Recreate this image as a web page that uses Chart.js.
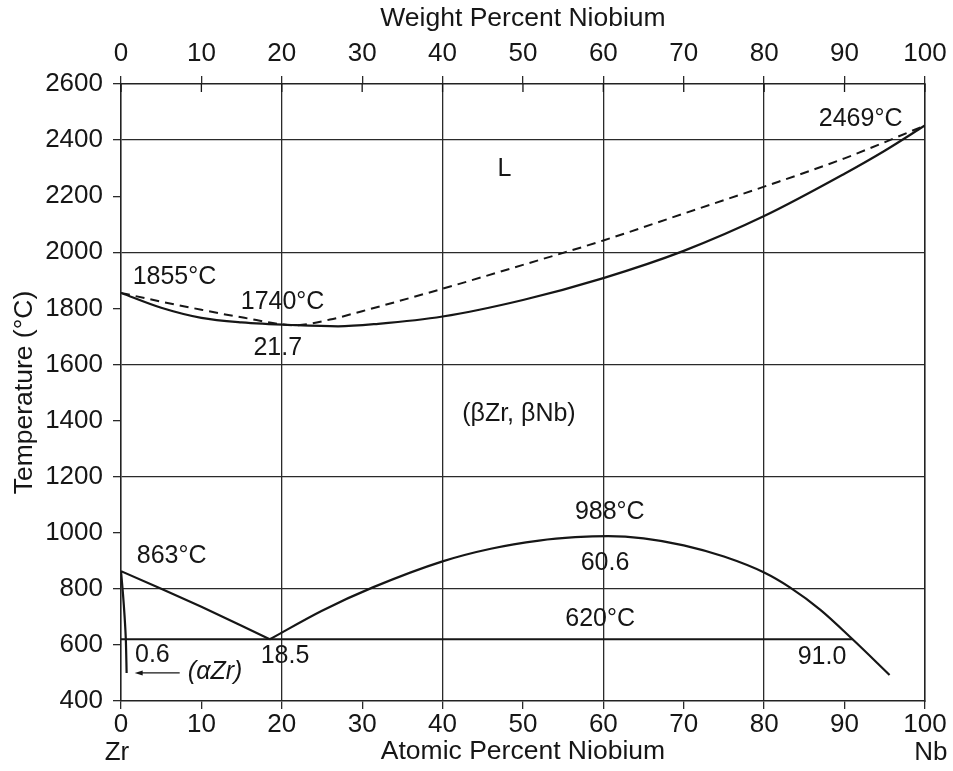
<!DOCTYPE html>
<html>
<head>
  <script src="https://cdn.jsdelivr.net/npm/chart.js"></script>
  <title>Zr-Nb Phase Diagram</title>
  <style>
    body { margin: 0; background: #fff; }
    canvas { display: block; }
  </style>
</head>
<body>
  <canvas id="phaseChart" width="953" height="771"></canvas>

  <script>
    // Liquidus (dashed) and solidus (solid), atomic % Nb vs temperature
    const liquidusX = [0, 5, 10, 15, 21.7, 26, 30, 40, 50, 60, 70, 80, 90, 100];
    const liquidusT = [1855, 1824, 1795, 1768, 1740, 1760, 1790, 1870, 1955, 2042, 2138, 2234, 2335, 2452];
    const solidusX = [0, 5, 10, 15, 21.7, 27, 32, 40, 50, 60, 70, 80, 90, 95, 100];
    const solidusT = [1855, 1802, 1766, 1750, 1740, 1736, 1745, 1771, 1830, 1908, 2005, 2129, 2280, 2362, 2452];

    // beta transus from Zr side down to the monotectoid point
    const betaLeftX = [0, 5, 10, 15, 18.5];
    const betaLeftT = [863, 800, 736, 668, 620];

    // miscibility gap dome
    const domeX = [18.5, 25, 31.4, 40, 46, 52, 56.5, 60.6, 65, 70, 75, 80, 83.2, 87, 91, 95.6];
    const domeT = [620, 722, 806, 898, 943, 972, 984, 988, 980, 955, 915, 858, 805, 725, 620, 493];

    // alpha Zr solvus near pure Zr
    const alphaX = [0, 0.25, 0.45, 0.6, 0.7];
    const alphaT = [863, 780, 700, 620, 500];

    // monotectoid horizontal at 620 C
    const monoX = [0, 91];
    const monoT = [620, 620];

    const tickLabelsX = [0, 10, 20, 30, 40, 50, 60, 70, 80, 90, 100];

    // text annotations in data coordinates
    const noteText = ['L', '1855°C', '1740°C', '21.7', '2469°C', '(βZr, βNb)', '988°C', '60.6', '620°C', '91.0', '863°C', '0.6', '18.5', '(αZr)'];
    const noteX = [47.7, 6.65, 20.1, 19.5, 92.0, 49.5, 60.8, 60.2, 59.6, 87.2, 6.3, 3.9, 20.4, 11.7];
    const noteT = [2295, 1913, 1824, 1660, 2475, 1422, 1073, 891, 692, 555, 916, 564, 560, 503];
    const arrowX = [7.3, 1.7];
    const arrowT = [500, 500];

    const FONT = "'Liberation Sans', Arial, Helvetica, sans-serif";
    const INK = '#161616';

    function pts(xs, ys) {
      return xs.map((x, i) => ({ x: x, y: ys[i] }));
    }

    function curve(xs, ys, extra) {
      return Object.assign({
        data: pts(xs, ys),
        showLine: true,
        borderColor: INK,
        borderWidth: 2.2,
        pointRadius: 0,
        fill: false,
        tension: 0
      }, extra || {});
    }

    // labels, arrow and the little inner tick halves on the top axis
    const notesPlugin = {
      id: 'notes',
      afterDatasetsDraw(chart) {
        const ctx = chart.ctx;
        const xs = chart.scales.x;
        const ys = chart.scales.y;
        ctx.save();
        ctx.fillStyle = INK;
        ctx.textAlign = 'center';
        ctx.textBaseline = 'middle';
        noteText.forEach((t, i) => {
          ctx.font = (t === '(αZr)' ? 'italic ' : '') + '25px ' + FONT;
          ctx.fillText(t, xs.getPixelForValue(noteX[i]), ys.getPixelForValue(noteT[i]));
        });

        // arrow pointing to the alpha Zr field
        const x0 = xs.getPixelForValue(arrowX[0]);
        const x1 = xs.getPixelForValue(arrowX[1]);
        const y0 = ys.getPixelForValue(arrowT[0]);
        ctx.strokeStyle = INK;
        ctx.lineWidth = 1.2;
        ctx.beginPath();
        ctx.moveTo(x0, y0);
        ctx.lineTo(x1 + 4, y0);
        ctx.stroke();
        ctx.beginPath();
        ctx.moveTo(x1, y0);
        ctx.lineTo(x1 + 8, y0 - 2.5);
        ctx.lineTo(x1 + 8, y0 + 2.5);
        ctx.closePath();
        ctx.fill();

        // top axis ticks cross the border
        const top = chart.chartArea.top;
        ctx.lineWidth = 1.3;
        tickLabelsX.forEach(v => {
          const px = chart.scales.x2.getPixelForValue(v);
          ctx.beginPath();
          ctx.moveTo(px, top);
          ctx.lineTo(px, top + 8);
          ctx.stroke();
        });
        ctx.restore();
      }
    };

    const tickFont = { family: FONT, size: 26 };
    const titleFont = { family: FONT, size: 26.5 };

    new Chart(document.getElementById('phaseChart'), {
      type: 'scatter',
      data: {
        datasets: [
          curve(liquidusX, liquidusT, { borderDash: [9, 6], borderWidth: 2, cubicInterpolationMode: 'monotone' }),
          curve(solidusX, solidusT, { cubicInterpolationMode: 'monotone' }),
          curve(betaLeftX, betaLeftT),
          curve(domeX, domeT, { cubicInterpolationMode: 'monotone' }),
          curve(alphaX, alphaT, { tension: 0.3 }),
          curve(monoX, monoT, { borderWidth: 2 })
        ]
      },
      options: {
        responsive: false,
        animation: false,
        layout: { padding: 0 },
        plugins: { legend: { display: false }, tooltip: { enabled: false } },
        scales: {
          x: {
            type: 'linear',
            position: 'bottom',
            min: 0,
            max: 100,
            afterFit: s => { s.height = 70; },
            ticks: { stepSize: 10, autoSkip: false, maxRotation: 0, padding: 0.5, color: INK, font: tickFont },
            grid: {
              color: c => (c.tick && c.tick.value % 20 === 0 && c.tick.value > 0 && c.tick.value < 100) ? '#2a2a2a' : 'rgba(0,0,0,0)',
              tickColor: '#2a2a2a',
              lineWidth: 1.3,
              tickLength: 8
            },
            border: { display: true, color: '#222', width: 1.6 },
            title: { display: true, text: 'Atomic Percent Niobium', color: INK, font: titleFont, padding: { bottom: 3.5 } }
          },
          x2: {
            type: 'linear',
            position: 'top',
            min: 0,
            max: 100,
            afterFit: s => { s.height = 84; },
            ticks: { stepSize: 10, autoSkip: false, maxRotation: 0, padding: 6.4, color: INK, font: tickFont },
            grid: { drawOnChartArea: false, color: '#2a2a2a', lineWidth: 1.3, tickLength: 8 },
            border: { display: true, color: '#222', width: 1.6 },
            title: { display: true, text: 'Weight Percent Niobium', color: INK, font: titleFont, padding: { top: 2.4 } }
          },
          y: {
            type: 'linear',
            position: 'left',
            min: 400,
            max: 2600,
            afterFit: s => { s.width = 121; },
            ticks: { stepSize: 200, padding: 10, color: INK, font: tickFont, callback: v => String(v) },
            grid: {
              color: c => (c.tick && c.tick.value % 400 === 0 && c.tick.value > 400) ? '#2a2a2a' : 'rgba(0,0,0,0)',
              tickColor: '#2a2a2a',
              lineWidth: 1.3,
              tickLength: 8
            },
            border: { display: true, color: '#222', width: 1.6 },
            title: { display: true, text: 'Temperature (°C)', color: INK, font: titleFont, padding: { top: 9 } }
          },
          y2: {
            type: 'linear',
            position: 'right',
            min: 400,
            max: 2600,
            afterFit: s => { s.width = 28; },
            ticks: { display: false },
            grid: { display: false, drawTicks: false },
            border: { display: true, color: '#222', width: 1.6 }
          }
        }
      },
      plugins: [notesPlugin, {
        id: 'endLabels',
        afterDraw(chart) {
          // element symbols under the ends of the atomic axis
          const ctx = chart.ctx;
          const xs = chart.scales.x;
          ctx.save();
          ctx.fillStyle = INK;
          ctx.font = '26px ' + FONT;
          ctx.textAlign = 'center';
          ctx.textBaseline = 'middle';
          ctx.fillText('Zr', xs.getPixelForValue(0) - 4, 753);
          ctx.fillText('Nb', xs.getPixelForValue(100) + 6, 753);
          ctx.restore();
        }
      }]
    });
  </script>
</body>
</html>
